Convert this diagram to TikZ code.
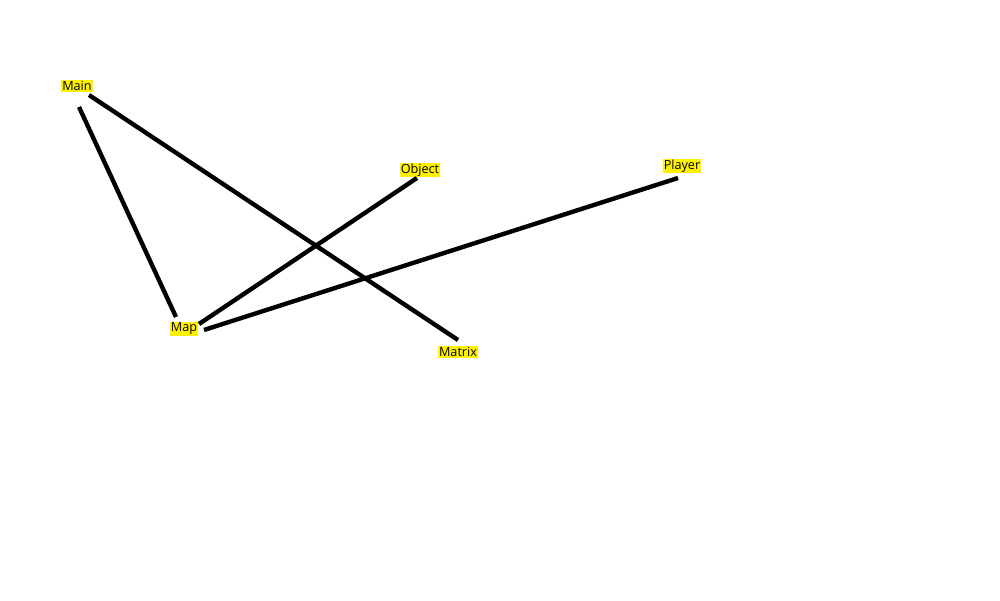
\documentclass[tikz,border=0pt]{standalone}
\usepackage{fontspec}
\setmainfont{Open Sans}
\tikzset{
  label box/.style={fill=yellow, inner sep=0.6pt, font=\fontsize{7.2}{8}\selectfont},
  link/.style={line width=2.5pt}
}
\begin{document}
\begin{tikzpicture}
        \useasboundingbox (0,0) rectangle (20,12);
        \node[label box] (main) at (1.54,10.28) {Main};
        \node[label box] (map) at (3.68,5.42) {Map};
        \node[label box] (object) at (8.40,8.60) {Object};
        \node[label box] (player) at (13.64,8.68) {Player};
        \node[label box] (matrix) at (9.16,4.96) {Matrix};
        \draw[link] ([shift={(0.04,-0.42)}]main.center) -- ([shift={(-0.16,0.24)}]map.center);
        \draw[link] ([shift={(0.24,-0.18)}]main.center) -- ([shift={(0,0.24)}]matrix.center);
        \draw[link] ([shift={(0.30,0.10)}]map.center) -- ([shift={(-0.06,-0.16)}]object.center);
        \draw[link] ([shift={(0.40,-0.02)}]map.center) -- ([shift={(-0.08,-0.24)}]player.center);
    \end{tikzpicture}
\end{document}
